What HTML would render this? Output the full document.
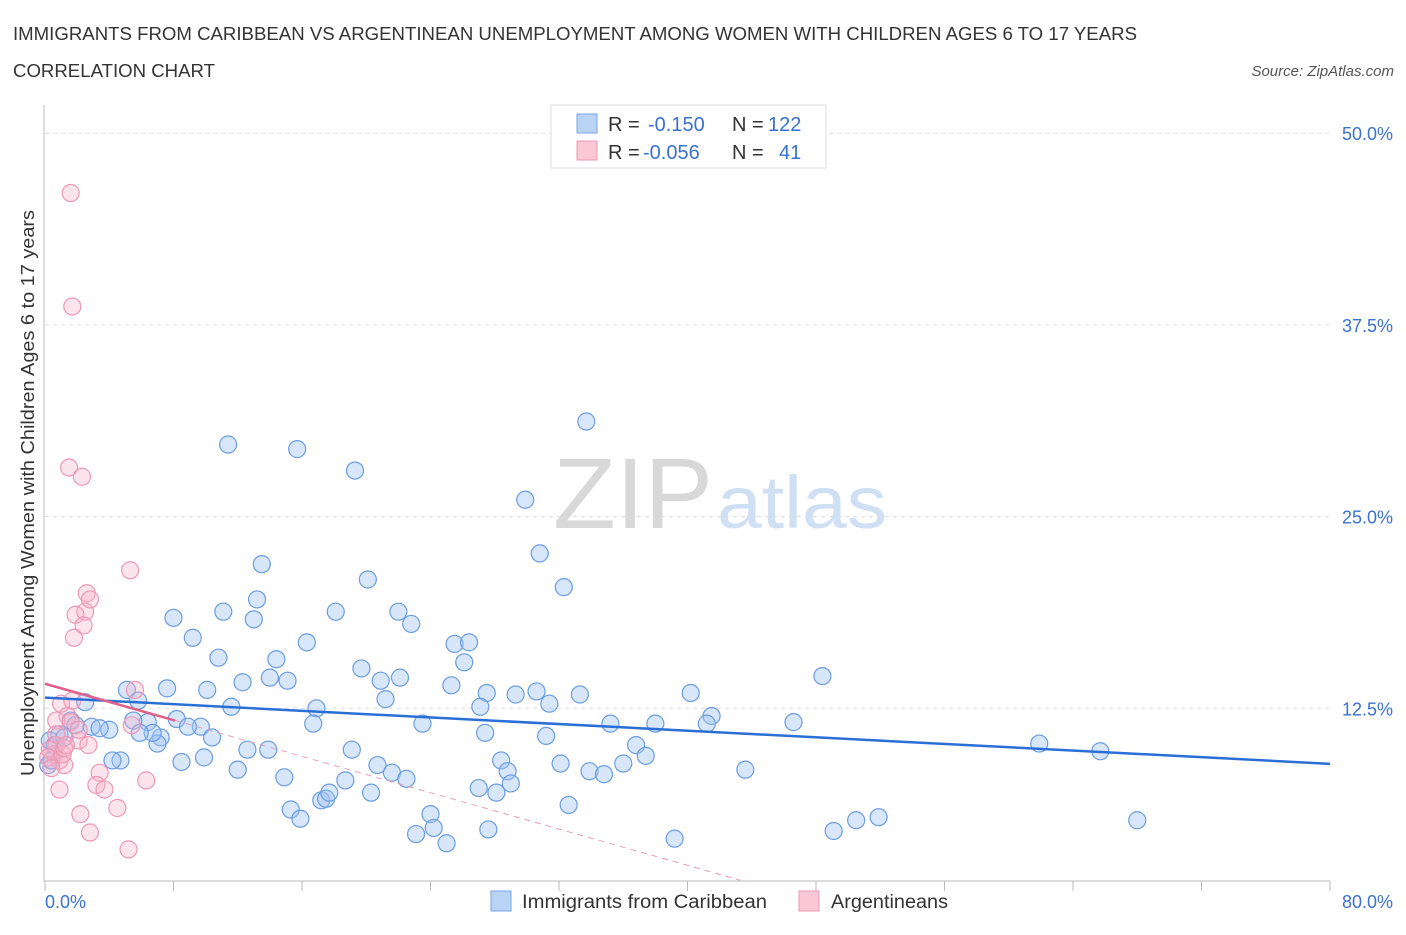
<!DOCTYPE html>
<html><head><meta charset="utf-8">
<style>
body{margin:0;background:#fff;font-family:"Liberation Sans",sans-serif;}
svg text{font-family:"Liberation Sans",sans-serif;}
</style></head>
<body>
<svg width="1406" height="930" viewBox="0 0 1406 930" xmlns="http://www.w3.org/2000/svg">
<text x="13" y="40" font-size="18" fill="#333" textLength="1124" lengthAdjust="spacingAndGlyphs">IMMIGRANTS FROM CARIBBEAN VS ARGENTINEAN UNEMPLOYMENT AMONG WOMEN WITH CHILDREN AGES 6 TO 17 YEARS</text>
<text x="13" y="77" font-size="18" fill="#333" textLength="202" lengthAdjust="spacingAndGlyphs">CORRELATION CHART</text>
<text x="1394" y="76" font-size="15" fill="#555" text-anchor="end" font-style="italic">Source: ZipAtlas.com</text>
<g>
<text x="553" y="528" font-size="100" fill="#d8d8d8" font-family="Liberation Serif,serif" textLength="160" lengthAdjust="spacingAndGlyphs">ZIP</text>
<text x="717" y="528" font-size="74" fill="#cfe0f5" textLength="170" lengthAdjust="spacingAndGlyphs">atlas</text>
</g>
<g id="grid"></g>
<g id="axes"></g>
<g id="pts"></g>
<g id="trends"></g>
<text transform="translate(34,493) rotate(-90)" font-size="18" fill="#333" text-anchor="middle" textLength="566" lengthAdjust="spacingAndGlyphs">Unemployment Among Women with Children Ages 6 to 17 years</text>
<g>
<rect x="551" y="105" width="275" height="63" fill="#fff" stroke="#ddd"/>
<rect x="577" y="114" width="20" height="19" fill="#b9d3f5" stroke="#7ba6e3"/>
<rect x="577" y="141" width="20" height="19" fill="#f9c7d6" stroke="#eb98b2"/>
<text x="608" y="131" font-size="20" fill="#333">R = </text>
<text x="648" y="131" font-size="20" fill="#3a72d0">-0.150</text>
<text x="732" y="131" font-size="20" fill="#333">N = </text>
<text x="768" y="131" font-size="20" fill="#3a72d0">122</text>
<text x="608" y="159" font-size="20" fill="#333">R = </text>
<text x="643" y="159" font-size="20" fill="#3a72d0">-0.056</text>
<text x="732" y="159" font-size="20" fill="#333">N = </text>
<text x="779" y="159" font-size="20" fill="#3a72d0">41</text>
</g>
<g>
<rect x="491" y="891" width="20" height="20" fill="#b9d3f5" stroke="#7ba6e3"/>
<text x="522" y="908" font-size="19" fill="#333" textLength="245" lengthAdjust="spacingAndGlyphs">Immigrants from Caribbean</text>
<rect x="799" y="891" width="20" height="20" fill="#f9c7d6" stroke="#eb98b2"/>
<text x="831" y="908" font-size="19" fill="#333" textLength="117" lengthAdjust="spacingAndGlyphs">Argentineans</text>
</g>
</svg>
<script>
const blueX=[11.4,15.7,19.3,33.7,29.9,30.8,32.3,13.5,20.1,13.2,11.1,13.0,8.0,18.1,22.0,22.8,9.2,16.3,25.5,26.4,26.1,10.8,14.4,19.7,12.3,14.0,15.1,20.9,22.1,25.3,5.1,7.6,10.1,5.8,11.6,21.2,27.5,29.3,30.6,33.3,40.2,48.4,31.4,27.1,16.9,41.5,35.2,38.0,41.2,46.6,23.5,16.7,8.2,6.4,2.5,1.6,0.9,4.0,2.9,5.5,9.7,8.9,7.2,7.0,6.7,4.7,4.2,10.4,12.6,13.9,27.4,31.2,36.8,61.9,65.7,8.5,9.9,19.1,20.7,28.4,28.8,12.0,21.6,22.5,32.1,33.9,34.8,36.0,37.4,43.6,14.9,18.7,20.3,27.0,28.1,29.0,15.3,15.9,17.2,17.5,17.7,24.0,24.2,23.1,25.0,27.6,32.6,39.2,49.1,50.5,51.9,68.0,0.3,0.6,1.2,3.4,5.9,1.9,0.2,0.4];
const blueY=[29.7,29.4,28.0,31.2,26.1,22.6,20.4,21.9,20.9,19.6,18.8,18.3,18.4,18.8,18.8,18.0,17.1,16.8,16.7,16.8,15.5,15.8,15.7,15.1,14.2,14.5,14.3,14.3,14.5,14.0,13.7,13.8,13.7,13.0,12.6,13.1,13.5,13.4,13.6,13.4,13.5,14.6,12.8,12.6,12.5,12.0,11.5,11.5,11.5,11.6,11.5,11.5,11.8,11.6,12.9,11.7,10.8,11.1,11.3,11.7,11.3,11.3,10.6,10.2,10.9,9.1,9.1,10.6,9.8,9.8,10.9,10.7,10.1,10.2,9.7,9.0,9.3,9.8,8.8,9.1,8.4,8.5,8.3,7.9,8.9,8.4,8.2,8.9,9.4,8.5,8.0,7.8,7.0,7.3,7.0,7.6,5.9,5.3,6.5,6.6,7.0,5.6,4.7,4.3,3.7,4.6,6.2,4.0,4.5,5.2,5.4,5.2,10.4,10.1,10.6,11.2,10.9,11.4,8.8,9.1];
const pinkX=[1.6,1.7,1.5,2.3,5.3,2.6,2.5,1.9,2.8,2.4,1.8,1.0,1.7,1.4,0.7,1.6,5.6,5.4,0.7,0.6,0.3,0.9,1.2,0.2,1.1,1.2,2.1,2.7,3.4,3.2,3.7,6.3,0.9,2.2,4.5,2.8,5.2,2.1,0.7,1.3,0.4];
const pinkY=[46.1,38.7,28.2,27.6,21.5,20.0,18.8,18.6,19.6,17.9,17.1,12.8,13.0,12.0,11.7,11.6,13.7,11.4,10.1,9.5,9.8,9.1,8.8,9.3,9.5,9.9,10.4,10.1,8.3,7.5,7.2,7.8,7.2,5.6,6.0,4.4,3.3,11.1,10.8,10.1,8.6];
const yTicks=[12.5,25.0,37.5,50.0];
const yTickLabels=["12.5%","25.0%","37.5%","50.0%"];
const xTicks=[0,8,16,24,32,40,48,56,64,72,80];
const blueTrend=[13.2,-0.054];   // intercept, slope
const pinkTrend=[14.1,-0.296];
const pinkSolidEnd=8.1, pinkDashEnd=43.3;

const NS="http://www.w3.org/2000/svg";
const sx=v=>45+v*(1285/80);
const sy=v=>900-v*(191.7/12.5);
function mk(tag,attrs,parent){const e=document.createElementNS(NS,tag);for(const k in attrs)e.setAttribute(k,attrs[k]);parent.appendChild(e);return e;}
const grid=document.getElementById('grid'),axes=document.getElementById('axes'),pts=document.getElementById('pts'),tr=document.getElementById('trends');
yTicks.forEach((t,i)=>{
  const l=mk('line',{x1:45,x2:1330,y1:sy(t),y2:sy(t),stroke:'#ddd','stroke-dasharray':'4,4'},grid);
  
  
  const tx=mk('text',{x:1393,y:sy(t)+7,'font-size':18,fill:'#3a72d0','text-anchor':'end'},axes);
  tx.textContent=yTickLabels[i];
  
  
});
const xl=mk('line',{x1:44,x2:1330,y1:881,y2:881,stroke:'#bbb'},axes);


const yl=mk('line',{x1:44,x2:44,y1:105,y2:881,stroke:'#bbb'},axes);


xTicks.forEach(t=>{
  const l=mk('line',{x1:sx(t),x2:sx(t),y1:881,y2:891,stroke:'#bbb'},axes);
  
  
});
[["0.0%",45,"start"],["80.0%",1393,"end"]].forEach(a=>{
  const t=mk('text',{x:a[1],y:908,'font-size':18,fill:'#3a72d0','text-anchor':a[2]},axes);
  t.textContent=a[0];
  
  
});
blueX.forEach((x,i)=>{
  const c=mk('circle',{cx:sx(x),cy:sy(blueY[i]),r:8.5,fill:'rgba(160,196,240,0.42)',stroke:'#6a9de2','stroke-width':1.2},pts);
  
  
});
pinkX.forEach((x,i)=>{
  const c=mk('circle',{cx:sx(x),cy:sy(pinkY[i]),r:8.5,fill:'rgba(246,178,200,0.35)',stroke:'#ee98b4','stroke-width':1.2},pts);
  
  
});
const bt=mk('line',{x1:sx(0),y1:sy(blueTrend[0]),x2:sx(80),y2:sy(blueTrend[0]+blueTrend[1]*80),stroke:'#2a6fd6','stroke-width':2.5},tr);


const pd=mk('line',{x1:sx(pinkSolidEnd),y1:sy(pinkTrend[0]+pinkTrend[1]*pinkSolidEnd),x2:sx(pinkDashEnd),y2:sy(pinkTrend[0]+pinkTrend[1]*pinkDashEnd),stroke:'#e7a0b8','stroke-width':1,'stroke-dasharray':'6,5'},tr);


const pt=mk('line',{x1:sx(0),y1:sy(pinkTrend[0]),x2:sx(pinkSolidEnd),y2:sy(pinkTrend[0]+pinkTrend[1]*pinkSolidEnd),stroke:'#e0608a','stroke-width':2.5},tr);


</script>
</body></html>
